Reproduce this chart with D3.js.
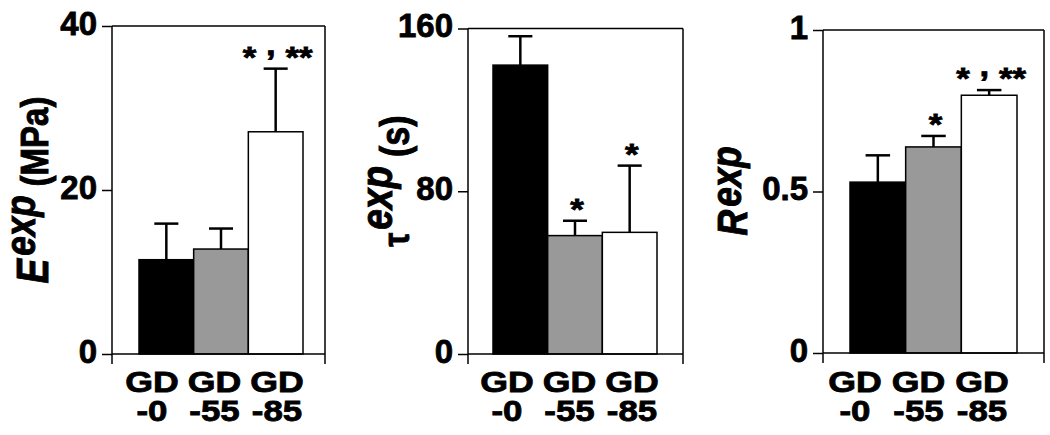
<!DOCTYPE html>
<html>
<head>
<meta charset="utf-8">
<script src="https://cdn.jsdelivr.net/npm/d3@7"></script>
<style>
  html, body { margin: 0; padding: 0; background: #fff; }
  svg { display: block; }
  text { font-family: "Liberation Sans", Arial, Helvetica, sans-serif; fill: #000; }
  .heavy { stroke: #000; stroke-width: 0.8px; }
</style>
</head>
<body>
<svg id="chart" width="1050" height="435"></svg>
<script>
// ---- data ----
const categories = ["GD-0", "GD-55", "GD-85"];
const barColors = ["#000000", "#999999", "#ffffff"];

const eValues = [11.5, 12.8, 27.1];
const eSD = [4.4, 2.5, 7.7];
const eSig = ["", "", "* , **"];
const eTicks = [0, 20, 40];

const tauValues = [142, 58.2, 59.8];
const tauSD = [14.2, 7.3, 32.8];
const tauSig = ["", "*", "*"];
const tauTicks = [0, 80, 160];

const rValues = [0.529, 0.638, 0.798];
const rSD = [0.083, 0.034, 0.016];
const rSig = ["", "*", "* , **"];
const rTicks = [0, 0.5, 1];

// ---- layout (positions only) ----
const panels = [
  { values: eValues, sd: eSD, sig: eSig, ticks: eTicks,
    sym: "E", symFont: 37, symItalic: true, unit: "(MPa)", unitFont: 33, expFont: 35,
    x0: 112, x1: 325, top: 26, zero: 354, barL: 139, barR: 303, labL: 152, labR: 277,
    ylabX: 48, ylabY: 190, supShift: 11 },
  { values: tauValues, sd: tauSD, sig: tauSig, ticks: tauTicks,
    sym: "\u03C4", symFont: 31, symItalic: false, unit: "(s)", unitFont: 34, expFont: 37,
    x0: 468, x1: 683, top: 28.5, zero: 354, barL: 493, barR: 657, labL: 507, labR: 632,
    ylabX: 409, ylabY: 181, supShift: 14 },
  { values: rValues, sd: rSD, sig: rSig, ticks: rTicks,
    sym: "R", symFont: 36, symItalic: true, unit: "", unitFont: 33, expFont: 35,
    x0: 823, x1: 1044, top: 30, zero: 353, barL: 850, barR: 1017, labL: 855, labR: 982,
    ylabX: 747, ylabY: 191, supShift: 5 }
];

const svg = d3.select("#chart");

panels.forEach(p => {
  const g = svg.append("g");
  const maxV = p.ticks[p.ticks.length - 1];
  const y = d3.scaleLinear().domain([0, maxV]).range([p.zero, p.top]);
  const x = d3.scaleBand().domain(categories).range([p.barL, p.barR]).paddingInner(0).paddingOuter(0);
  const xl = d3.scalePoint().domain(categories).range([p.labL, p.labR]);

  // bars
  g.selectAll("rect.bar").data(categories).enter().append("rect")
    .attr("x", c => x(c))
    .attr("width", x.bandwidth())
    .attr("y", (c, i) => y(p.values[i]))
    .attr("height", (c, i) => y(0) - y(p.values[i]))
    .attr("fill", (c, i) => barColors[i])
    .attr("stroke", "#000").attr("stroke-width", 1.5);

  // error bars
  const capW = x.bandwidth() * 0.44;
  categories.forEach((c, i) => {
    const cx = x(c) + x.bandwidth() / 2;
    const yt = y(p.values[i] + p.sd[i]);
    g.append("line").attr("x1", cx).attr("x2", cx)
      .attr("y1", y(p.values[i])).attr("y2", yt)
      .attr("stroke", "#000").attr("stroke-width", 2.5);
    g.append("line").attr("x1", cx - capW / 2).attr("x2", cx + capW / 2)
      .attr("y1", yt).attr("y2", yt)
      .attr("stroke", "#000").attr("stroke-width", 2.5);
    if (p.sig[i]) {
      const t = g.append("text").attr("class", "heavy")
        .attr("transform", `translate(${cx + 2},${yt - 2}) scale(1.2,1)`)
        .attr("text-anchor", "middle")
        .style("font-size", "29px").style("font-weight", "bold");
      const parts = p.sig[i].split(",");
      if (parts.length === 1) {
        t.text(parts[0]);
      } else {
        t.append("tspan").text(parts[0]);
        t.append("tspan").attr("dy", -12).text(",");
        t.append("tspan").attr("dy", 12).text(parts[1]);
      }
    }
  });

  // frame
  const ln = (x1, y1, x2, y2) => g.append("line")
    .attr("x1", x1).attr("y1", y1).attr("x2", x2).attr("y2", y2)
    .attr("stroke", "#000").attr("stroke-width", 1.5);
  ln(p.x0, y(maxV), p.x1, y(maxV));
  ln(p.x0, y(0), p.x1, y(0));
  ln(p.x0, y(maxV), p.x0, y(0) + 10);
  ln(p.x1, y(maxV), p.x1, y(0) + 10);

  // y axis ticks
  const ax = g.append("g").attr("transform", `translate(${p.x0},0)`)
    .call(d3.axisLeft(y).tickValues(p.ticks).tickSize(10).tickPadding(5)
      .tickFormat(d3.format("~g")));
  ax.select(".domain").remove();
  ax.selectAll(".tick line").attr("stroke", "#000").attr("stroke-width", 1.5);
  ax.selectAll(".tick text")
    .attr("class", "heavy")
    .attr("dy", null).attr("y", 8)
    .attr("fill", "#000")
    .style("font-size", "33px").style("font-weight", "bold")
    .style("font-family", "'Liberation Sans', Arial, sans-serif");

  // x labels
  categories.forEach(c => {
    const [a, b] = c.split("-");
    const lx = xl(c);
    g.append("text").attr("class", "heavy")
      .attr("transform", `translate(${lx},392) scale(1.23,1)`)
      .attr("text-anchor", "middle")
      .style("font-size", "29px").style("font-weight", "bold").text(a);
    g.append("text").attr("class", "heavy")
      .attr("transform", `translate(${lx},421) scale(1.2,1)`)
      .attr("text-anchor", "middle")
      .style("font-size", "29px").style("font-weight", "bold").text("-" + b);
  });

  // y label (rotated)
  const yl = g.append("text").attr("class", "heavy")
    .attr("transform", `translate(${p.ylabX},${p.ylabY}) scale(1.2,1) rotate(-90)`)
    .attr("text-anchor", "middle")
    .style("font-weight", "bold");
  yl.append("tspan").style("font-size", p.symFont + "px")
    .style("font-style", p.symItalic ? "italic" : "normal").text(p.sym);
  yl.append("tspan").attr("dy", -p.supShift).attr("dx", 3)
    .style("font-size", p.expFont + "px").style("font-style", "italic").text("exp");
  if (p.unit) {
    yl.append("tspan").attr("dy", p.supShift).attr("dx", 9)
      .style("font-size", p.unitFont + "px").text(p.unit);
  }
});
</script>
</body>
</html>
